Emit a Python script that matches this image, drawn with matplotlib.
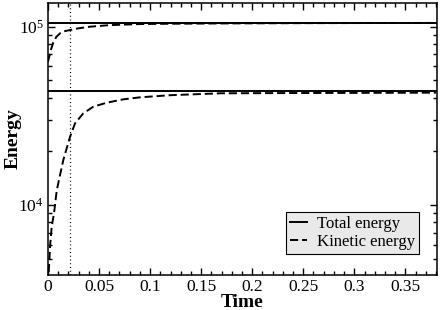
import numpy as np
import matplotlib
matplotlib.use("Agg")
import matplotlib.pyplot as plt
from matplotlib.ticker import MultipleLocator, LogLocator

plt.rcParams['font.family'] = ['Liberation Serif', 'DejaVu Serif']
plt.rcParams['mathtext.fontset'] = 'custom'
plt.rcParams['mathtext.rm'] = 'Liberation Serif'
plt.rcParams['mathtext.it'] = 'Liberation Serif:italic'
plt.rcParams['mathtext.bf'] = 'Liberation Serif:bold'

# Data
total_high = 105300.0
total_low = 43850.0

t_kin_high = [0.0, 0.0025, 0.005, 0.008, 0.012, 0.016, 0.0216, 0.03, 0.041, 0.06, 0.09,
              0.12, 0.17, 0.25, 0.38]
kin_high = [63600, 73000, 81000, 87500, 92000, 94300, 95800, 98000, 100000, 102000, 103500,
            103900, 104300, 104700, 105000]

t_kin_low = [0.0, 0.0013, 0.002, 0.0036, 0.0059, 0.0085, 0.0101, 0.015, 0.0216, 0.0265,
             0.0346, 0.0444, 0.0575, 0.0738, 0.0902, 0.12, 0.169, 0.234, 0.38]
kin_low = [3600, 4810, 5830, 7550, 8985, 12000, 13300, 17880, 24150, 28720,
           32690, 35590, 37480, 39150, 40180, 41300, 42320, 42450, 42660]

t_mark = 0.0216
x_max = 0.381
y_min, y_max = 4050, 136700

fig = plt.figure(figsize=(4.4, 3.1), dpi=100)
ax = fig.add_axes([48/440, 1-275/310, (437-48)/440, (275-2.5)/310])

ax.set_yscale('log')
ax.axhline(total_high, color='black', lw=1.4, label='Total energy')
ax.axhline(total_low, color='black', lw=1.4)
ax.plot(t_kin_high, kin_high, color='black', lw=1.4, ls=(0, (4.2, 2.0)), label='Kinetic energy')
ax.plot(t_kin_low, kin_low, color='black', lw=1.4, ls=(0, (4.2, 2.0)))
ax.axvline(t_mark, color='black', lw=0.9, ls=(0, (0.8, 2.2)))

ax.set_xlim(0, x_max)
ax.set_ylim(y_min, y_max)

ax.set_xticks([0, 0.05, 0.1, 0.15, 0.2, 0.25, 0.3, 0.35])
ax.set_xticklabels(['0', '0.05', '0.1', '0.15', '0.2', '0.25', '0.3', '0.35'])
ax.xaxis.set_minor_locator(MultipleLocator(0.01))
ax.yaxis.set_major_locator(LogLocator(base=10))
ax.yaxis.set_minor_locator(LogLocator(base=10, subs=np.arange(2, 10)))

ax.tick_params(which='both', direction='in', top=True, right=True, labelsize=12.5, width=1.0, pad=3)
ax.tick_params(which='major', length=5)
ax.tick_params(which='minor', length=2.8)
for s in ax.spines.values():
    s.set_linewidth(1.1)

ax.set_xlabel('Time', fontsize=14, fontweight='bold', labelpad=-0.5)
ax.set_ylabel('Energy', fontsize=14, fontweight='bold')
ax.yaxis.set_label_coords(-0.067, 0.5)

leg = ax.legend(loc='lower right', fontsize=12, frameon=True, fancybox=False,
                edgecolor='black', facecolor='#e9e9e9', framealpha=1,
                handlelength=1.0, handletextpad=0.6, borderpad=0.25, labelspacing=0.15,
                bbox_to_anchor=(0.975, 0.045))
leg.get_frame().set_linewidth(0.8)

fig.savefig('out.png', dpi=100)
